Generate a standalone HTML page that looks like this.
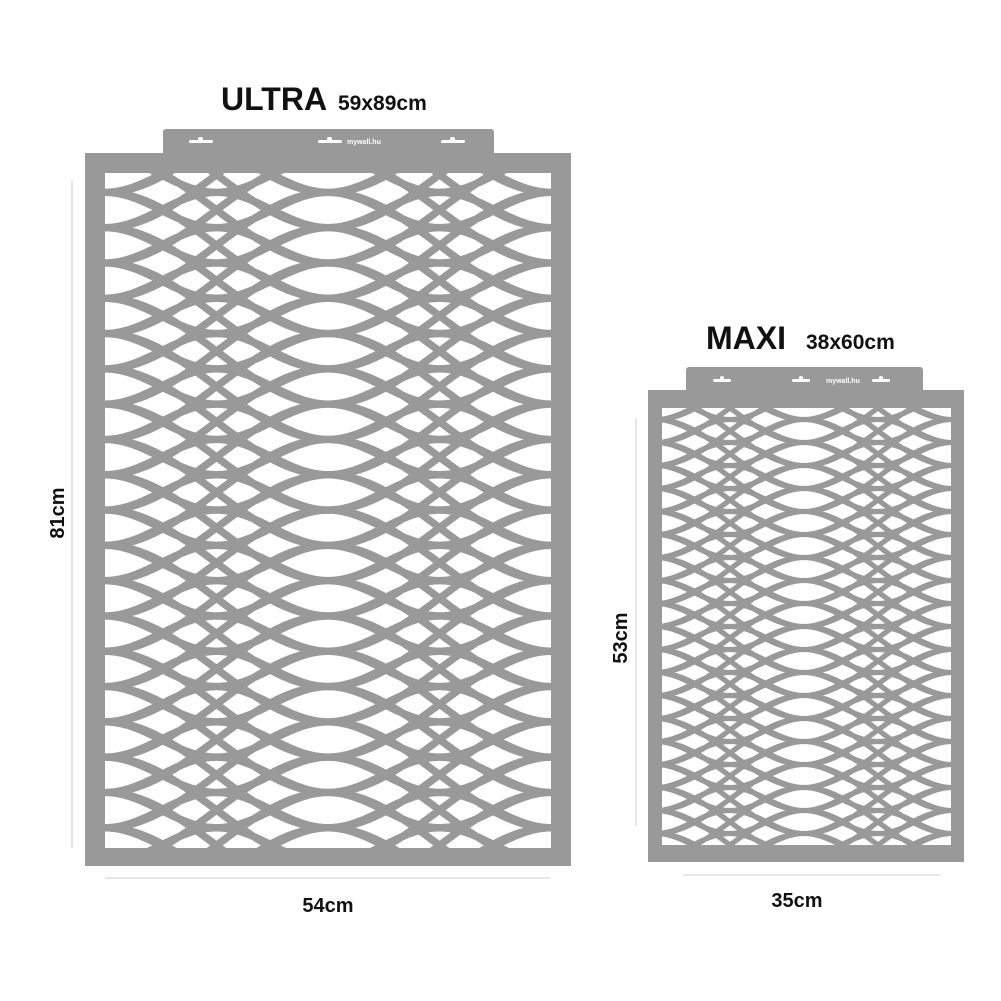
<!DOCTYPE html>
<html><head><meta charset="utf-8"><style>
html,body{margin:0;padding:0;background:#fff;overflow:hidden;width:1001px;height:1001px}
svg{display:block}
text{font-family:"Liberation Sans",sans-serif;font-weight:bold;fill:#111}
</style></head><body>
<svg id="s" width="1001" height="1001" viewBox="0 0 1001 1001" xmlns="http://www.w3.org/2000/svg">
<rect width="1001" height="1001" fill="#fff"/>
<path d="M163,153 V132 a3,3 0 0 1 3,-3 H491 a3,3 0 0 1 3,3 V153 Z" fill="#999"/>
<rect x="85" y="153" width="486" height="713" fill="#999"/>
<rect x="105" y="173" width="446" height="675" fill="#fff"/>
<g id="u"></g>
<g fill="#fff"><rect x="189" y="140" width="24" height="3" rx="1.5"/><rect x="198" y="137" width="5" height="4" rx="2"/>
<rect x="318" y="140" width="24" height="3" rx="1.5"/><rect x="327" y="137" width="5" height="4" rx="2"/>
<rect x="441" y="140" width="24" height="3" rx="1.5"/><rect x="450" y="137" width="5" height="4" rx="2"/></g>
<text x="347" y="144" font-size="7" style="fill:#fff">mywall.hu</text>
<text x="221" y="110" font-size="32">ULTRA</text>
<text x="338" y="110" font-size="21">59x89cm</text>
<line x1="72" y1="180" x2="72" y2="848" stroke="#ccc" stroke-width="1"/>
<line x1="105" y1="878" x2="550" y2="878" stroke="#ccc" stroke-width="1"/>
<text font-size="20" transform="translate(64,513) rotate(-90)" text-anchor="middle">81cm</text>
<text x="328" y="912" font-size="20" text-anchor="middle">54cm</text>
<path d="M686,390 V370 a3,3 0 0 1 3,-3 H920 a3,3 0 0 1 3,3 V390 Z" fill="#999"/>
<rect x="648" y="390" width="316" height="472" fill="#999"/>
<rect x="662" y="408" width="289" height="437" fill="#fff"/>
<g id="m"></g>
<g fill="#fff"><rect x="713" y="379" width="18" height="3" rx="1.5"/><rect x="720" y="376" width="4" height="4" rx="2"/>
<rect x="792" y="379" width="18" height="3" rx="1.5"/><rect x="799" y="376" width="4" height="4" rx="2"/>
<rect x="872" y="379" width="18" height="3" rx="1.5"/><rect x="879" y="376" width="4" height="4" rx="2"/></g>
<text x="826" y="383" font-size="7" style="fill:#fff">mywall.hu</text>
<text x="706" y="349" font-size="32">MAXI</text>
<text x="806" y="349" font-size="21">38x60cm</text>
<line x1="636" y1="418" x2="636" y2="826" stroke="#ccc" stroke-width="1"/>
<line x1="683" y1="875" x2="940" y2="875" stroke="#ccc" stroke-width="1"/>
<text font-size="20" transform="translate(627,638) rotate(-90)" text-anchor="middle">53cm</text>
<text x="797" y="907" font-size="20" text-anchor="middle">35cm</text>
</svg>
<script>
function gen(id,x0,x1,y0,y1,xc,sp,sw,c0,fams){
  var ns="http://www.w3.org/2000/svg",g=document.getElementById(id);
  var cp=document.createElementNS(ns,"clipPath");cp.setAttribute("id",id+"c");
  var r=document.createElementNS(ns,"rect");r.setAttribute("x",x0);r.setAttribute("y",y0);
  r.setAttribute("width",x1-x0);r.setAttribute("height",y1-y0);cp.appendChild(r);g.appendChild(cp);
  g.setAttribute("clip-path","url(#"+id+"c)");
  var d="";
  var kStart=Math.floor((y0-c0)/sp)-5,kEnd=Math.ceil((y1-c0)/sp)+5;
  for(var k=kStart;k<=kEnd;k++){
    var c=c0+k*sp;
    for(var s=-1;s<=1;s+=2){
      for(var j=0;j<fams.length;j++){
        var A=fams[j][0],h=fams[j][1];
        var p="";
        for(var x=x0-5;x<=x1+5;x+=1.5){
          var f=Math.cos(Math.PI/2*(x-xc)/h);
          var y=c+s*A*f;
          p+=(p?"L":"M")+x.toFixed(1)+","+y.toFixed(2);
        }
        d+=p;
      }
    }
  }
  var pa=document.createElementNS(ns,"path");pa.setAttribute("d",d);
  pa.setAttribute("fill","none");pa.setAttribute("stroke","#999");pa.setAttribute("stroke-width",sw);
  g.appendChild(pa);
}
gen("u",105,551,173,848,328,35.3,7.5,210,[[17.65,55.75],[52.95,111.5]]);
gen("m",662,951,408,845,804,23.0,5.2,431,[[11.5,37],[34.5,74]]);
</script>
</body></html>
